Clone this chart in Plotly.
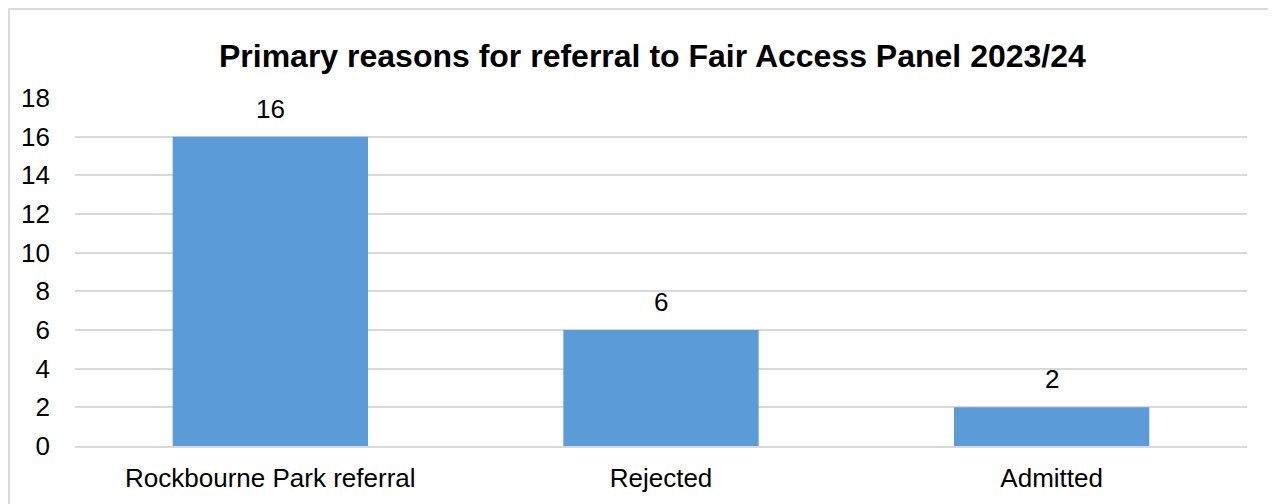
import plotly.graph_objects as go

categories = ["Rockbourne Park referral", "Rejected", "Admitted"]
values = [16, 6, 2]
y_ticks = [0, 2, 4, 6, 8, 10, 12, 14, 16, 18]

FONT = "Liberation Sans, Arial, sans-serif"

fig = go.Figure()
fig.add_trace(go.Bar(
    x=categories,
    y=values,
    marker=dict(color="#5b9bd8", line=dict(width=0)),
    width=0.5,
    hoverinfo="x+y",
))

# value labels sit a little above each bar
for cat, val in zip(categories, values):
    fig.add_annotation(x=cat, y=val, text=str(val), showarrow=False,
                       yshift=28, font=dict(size=26, color="#000000"))

fig.update_layout(
    width=1276,
    height=504,
    margin=dict(l=67, r=37, t=90, b=66),
    paper_bgcolor="white",
    plot_bgcolor="white",
    showlegend=False,
    font=dict(family=FONT, size=26, color="#000000"),
    title=dict(
        text="<b>Primary reasons for referral to Fair Access Panel 2023/24</b>",
        x=0.505,
        xanchor="center",
        y=0.905,
        yanchor="middle",
        font=dict(size=32, family=FONT, color="#000000"),
    ),
)
fig.update_yaxes(
    range=[0, 18],
    tickvals=y_ticks,
    showgrid=True,
    gridcolor="#d9d9d9",
    gridwidth=2,
    zeroline=False,
    showline=False,
    ticklabelstandoff=24,
    tickfont=dict(size=26),
)
fig.update_xaxes(
    showgrid=False,
    showline=True,
    linecolor="#d9d9d9",
    linewidth=2,
    ticks="",
    ticklabelstandoff=8,
    tickfont=dict(size=26),
)

# chart area border
fig.add_shape(type="rect", xref="paper", yref="paper",
              x0=-0.0563, x1=1.1, y0=-0.3, y1=1.2557,
              line=dict(color="#d9d9d9", width=2), layer="below")

fig.write_html("out.html")
